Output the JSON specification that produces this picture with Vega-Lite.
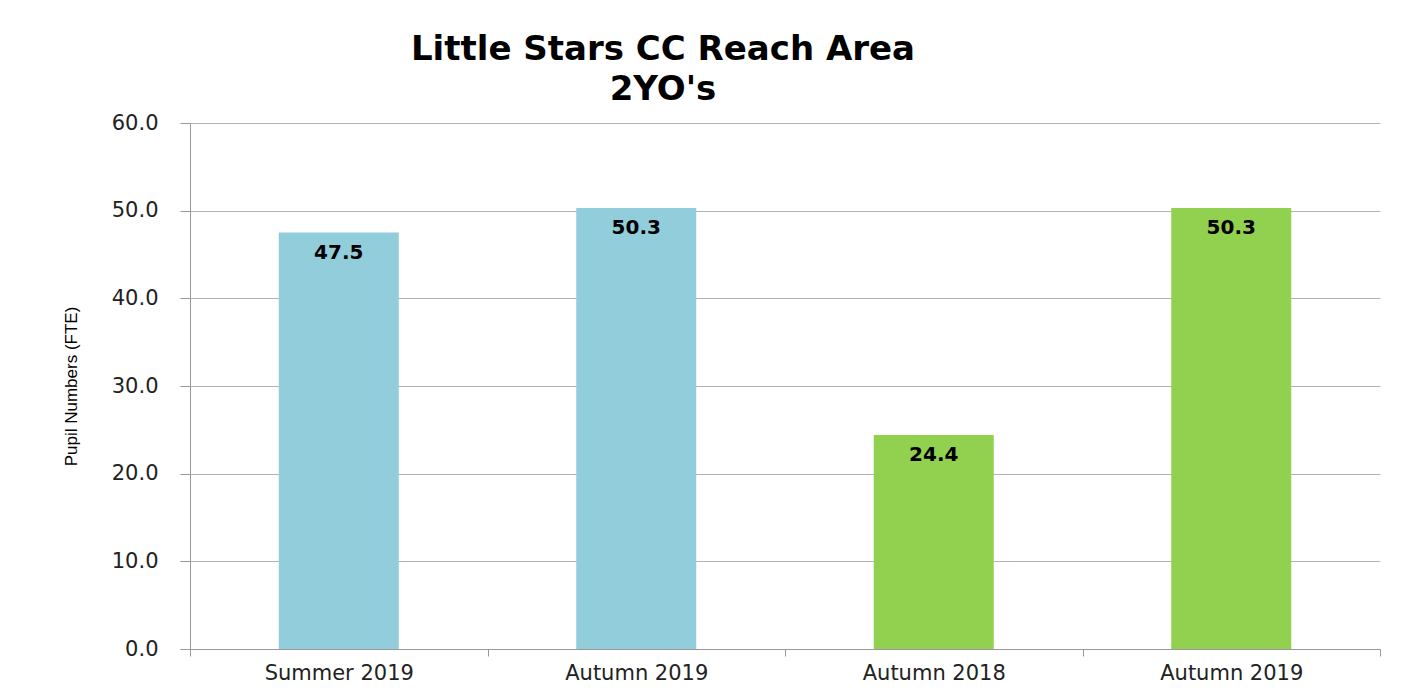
{
  "$schema": "https://vega.github.io/schema/vega-lite/v6.json",
  "autosize": {"type": "none"},
  "width": 1190,
  "height": 526,
  "padding": {"left": 190, "top": 123, "right": 34, "bottom": 47},
  "background": "white",
  "title": {
    "text": ["Little Stars CC Reach Area", "2YO's"],
    "font": "DejaVu Sans",
    "fontWeight": "bold",
    "fontSize": 34,
    "lineHeight": 40,
    "color": "#000000",
    "anchor": "middle",
    "frame": "group",
    "dx": -122,
    "offset": 5
  },
  "config": {
    "view": {"stroke": null},
    "axis": {"labelFont": "DejaVu Sans", "labelColor": "#222222", "domainColor": "#999999", "tickColor": "#999999"}
  },
  "data": {
    "values": [
      {"period": "Summer 2019|1", "value": 47.5, "series": "A"},
      {"period": "Autumn 2019|2", "value": 50.3, "series": "A"},
      {"period": "Autumn 2018|3", "value": 24.4, "series": "B"},
      {"period": "Autumn 2019|4", "value": 50.3, "series": "B"}
    ]
  },
  "encoding": {
    "x": {
      "field": "period",
      "type": "nominal",
      "sort": null,
      "scale": {"paddingInner": 0, "paddingOuter": 0},
      "axis": {
        "title": null,
        "labelExpr": "isValid(datum.value) ? split(datum.value, '|')[0] : ''",
        "labelAngle": 0,
        "labelFontSize": 21,
        "labelPadding": 6,
        "tickBand": "extent",
        "tickSize": 7,
        "domainColor": "#999999"
      }
    },
    "y": {
      "field": "value",
      "type": "quantitative",
      "scale": {"domain": [0, 60], "nice": false},
      "axis": {
        "title": "Pupil Numbers (FTE)",
        "titleFont": "Liberation Sans",
        "titleFontWeight": "normal",
        "titleFontSize": 17,
        "titleColor": "#000000",
        "titleAngle": -90,
        "titleX": -119,
        "titleY": 263,
        "titleAlign": "center",
        "titleBaseline": "middle",
        "values": [0, 10, 20, 30, 40, 50, 60],
        "format": ".1f",
        "labelFontSize": 21,
        "labelPadding": 22,
        "tickSize": 10,
        "grid": true,
        "gridColor": "#b3b3b3",
        "gridWidth": 1
      }
    }
  },
  "layer": [
    {
      "mark": {"type": "bar", "size": 120},
      "encoding": {
        "color": {
          "field": "series",
          "type": "nominal",
          "scale": {"domain": ["A", "B"], "range": ["#92CDDC", "#92D050"]},
          "legend": null
        }
      }
    },
    {
      "mark": {"type": "text", "baseline": "top", "dy": 10, "font": "DejaVu Sans", "fontWeight": "bold", "fontSize": 20, "color": "#000000"},
      "encoding": {
        "text": {"field": "value", "type": "quantitative", "format": ".1f"}
      }
    }
  ]
}
